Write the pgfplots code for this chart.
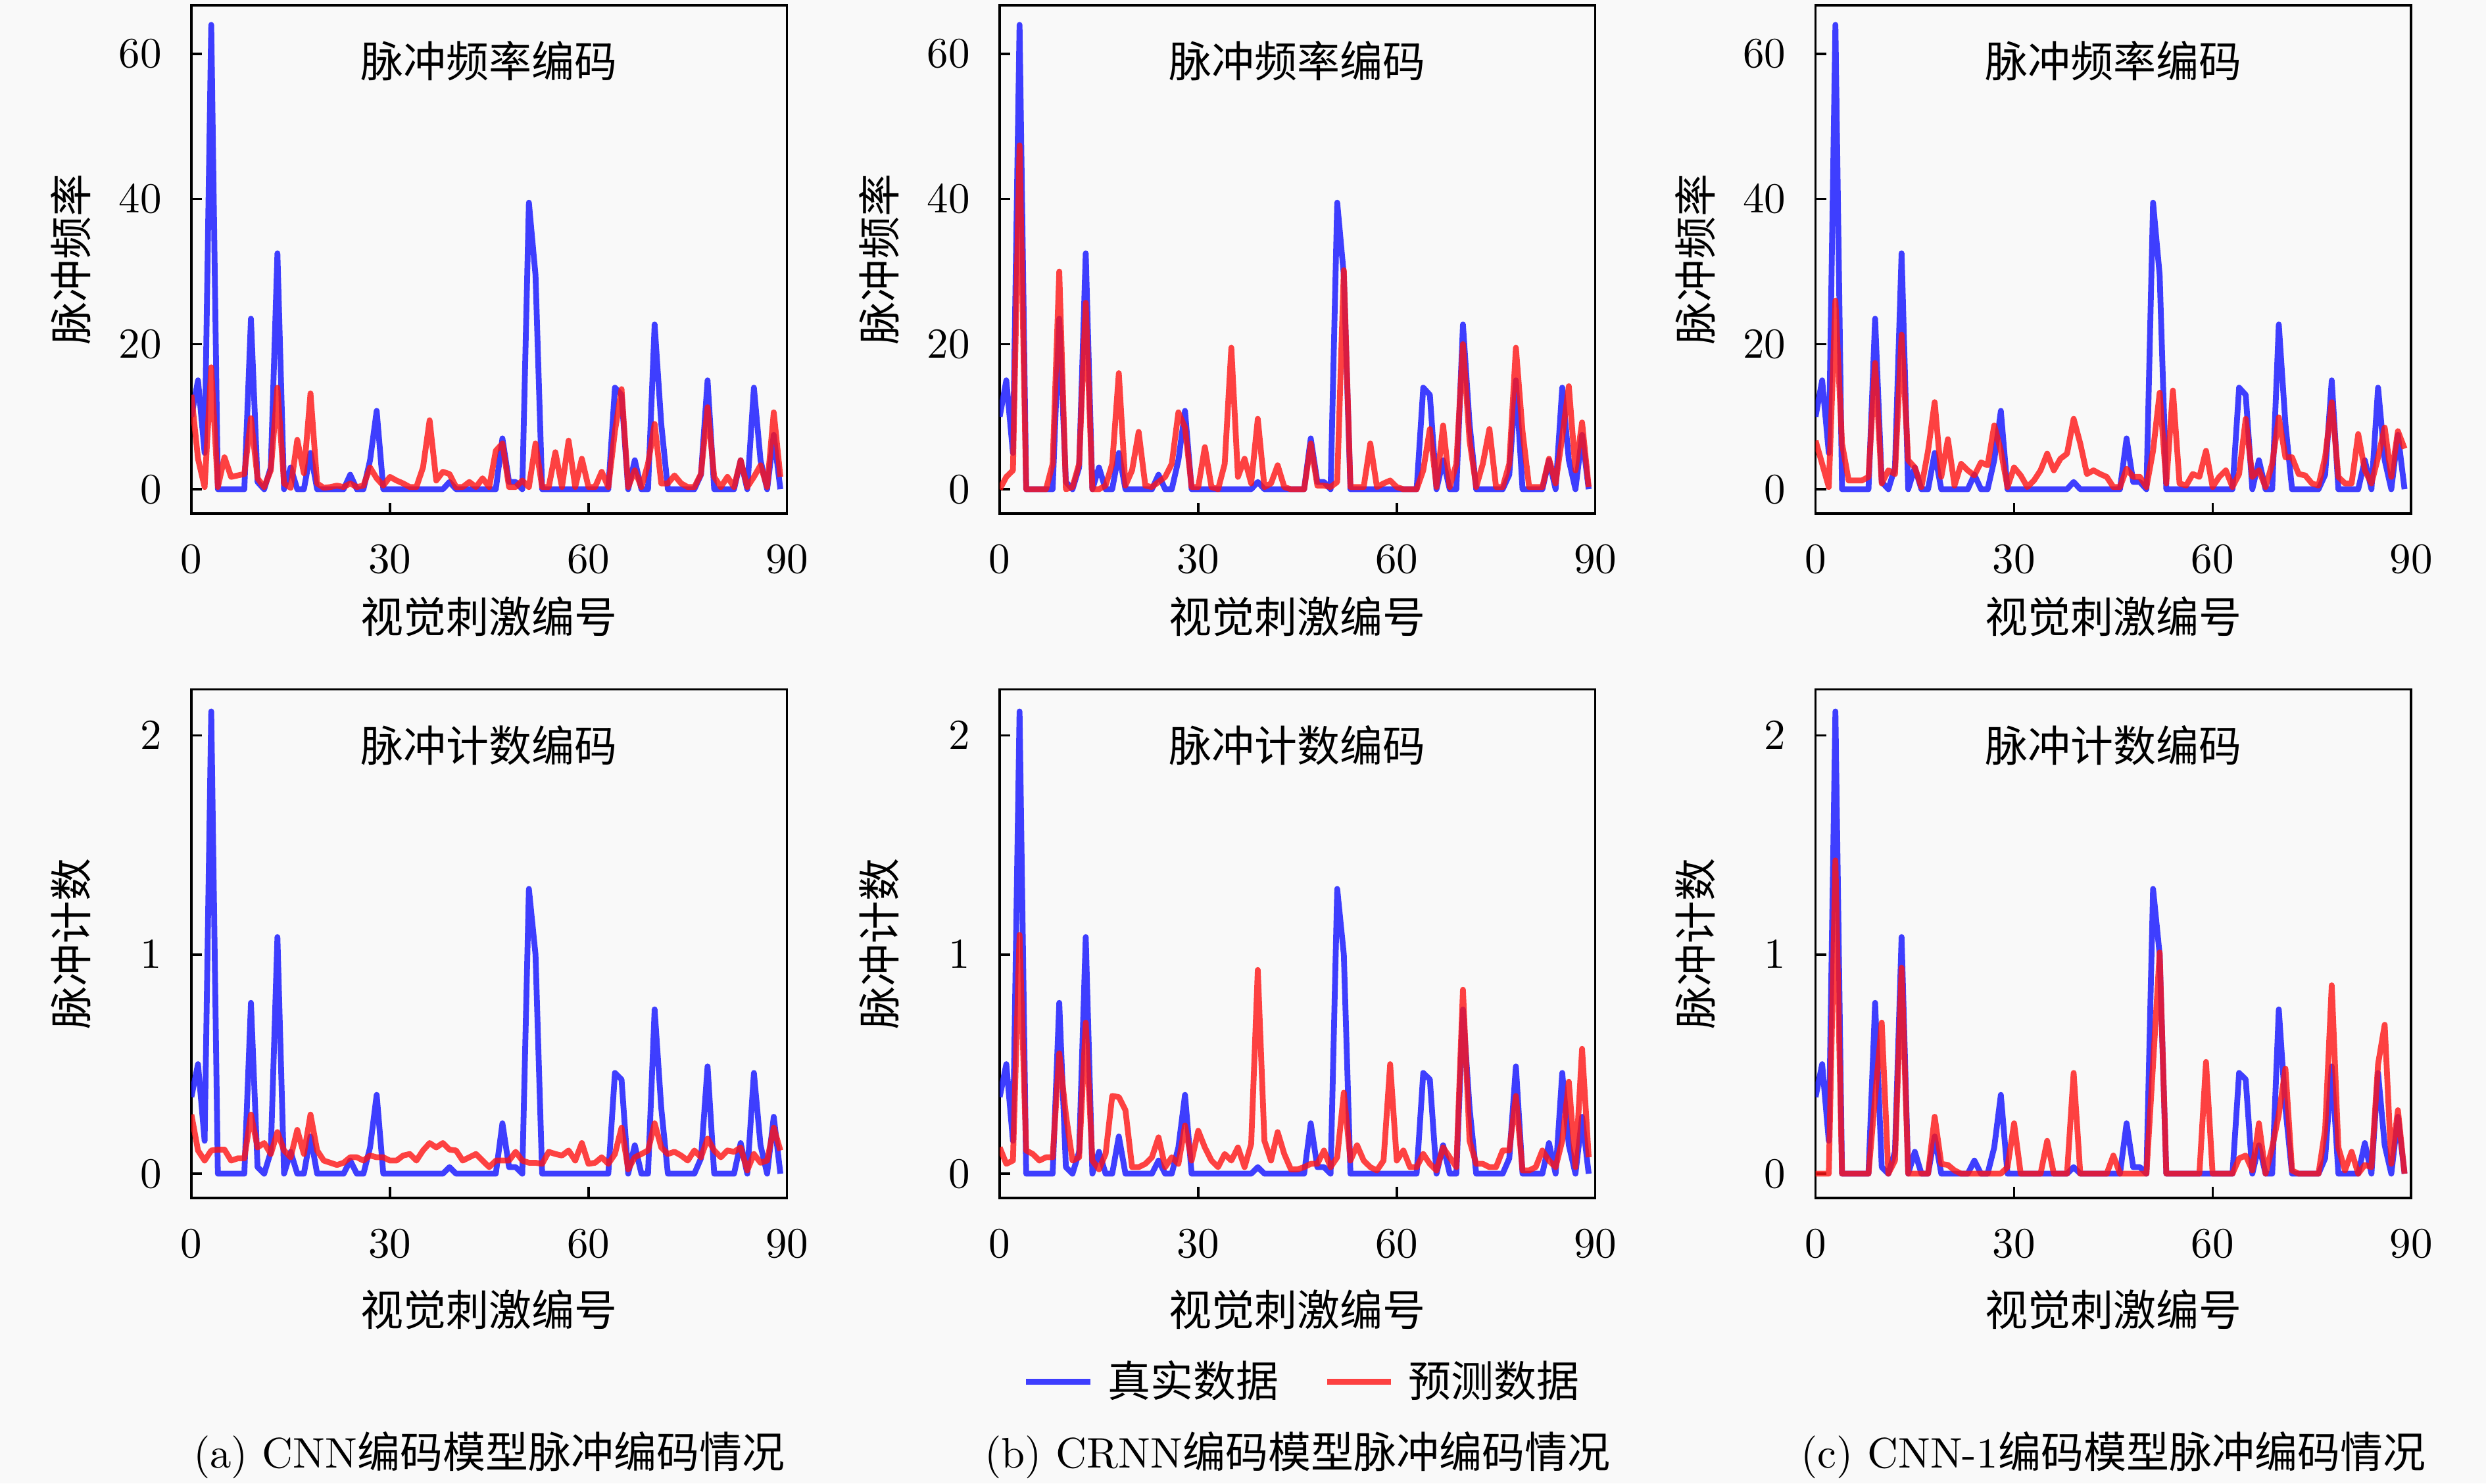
\documentclass[border=0pt]{standalone}
\usepackage{fontspec}
\usepackage{pgfplots}
\usepackage{pgfplotstable}
\pgfplotsset{compat=1.18}
\newfontfamily\cjk{Noto Sans CJK SC}
\definecolor{bgc}{RGB}{249,249,249}
\definecolor{tblue}{RGB}{30,30,255}
\definecolor{pred}{RGB}{255,20,20}

\pgfplotstableread{
x b ra rb rc
0 10 13 0 6.7
1 15 4.2 1.7 3.5
2 5 0.3 2.6 0.3
3 64 16.8 47.4 26
4 0 0.3 0 6.3
5 0 4.4 0 1.2
6 0 1.7 0 1.2
7 0 1.9 0 1.2
8 0 2.1 3.5 1.7
9 23.5 9.8 30 17.4
10 1 1.5 0 0.8
11 0 0.3 0.3 2.6
12 3 2.6 3.5 2.1
13 32.5 14 25.7 21.3
14 0 0.8 0 4
15 3 0.2 0 3
16 0 6.8 0.5 0.3
17 0 2.2 3.5 5.3
18 5 13.2 16 12
19 0 0.8 0.5 1.7
20 0 0.2 2.6 6.9
21 0 0.3 7.9 0.5
22 0 0.5 0.5 3.5
23 0 0.3 0.3 2.6
24 2 0.8 1 1.9
25 0 0.3 1.7 3.7
26 0 0.5 3.5 3.3
27 4 3 10.6 8.8
28 10.8 1.5 8.5 5.3
29 0 0.5 0.3 0.3
30 0 1.7 0.3 3
31 0 1.2 5.8 1.9
32 0 0.8 0.3 0.3
33 0 0.3 0 1.2
34 0 0.3 3.5 2.6
35 0 3 19.5 4.9
36 0 9.5 1.7 2.6
37 0 1.2 4.2 4.2
38 0 2.4 0.8 4.9
39 1 2.1 9.7 9.7
40 0 0.3 0.3 6.3
41 0 0.3 0.8 2.1
42 0 1 3.3 2.6
43 0 0.3 0.3 2.1
44 0 1.5 0 1.7
45 0 0.3 0 0.3
46 0 5.3 0 0.3
47 7 6.3 6.3 2.8
48 1 0.3 0.5 1.7
49 1 0.3 0.5 1.7
50 0 1.2 0.3 0.3
51 39.5 0.3 1 5.3
52 29.5 6.3 30.2 13.3
53 0 0.3 0.3 0.8
54 0 0.3 0.3 13.6
55 0 5.1 0.3 0.8
56 0 0.3 6.3 0.5
57 0 6.7 0.3 2.1
58 0 0.3 0.8 1.7
59 0 4.2 1.2 5.3
60 0 0.3 0.3 0.3
61 0 0.3 0 1.7
62 0 2.4 0 2.6
63 0 0.3 0 0.3
64 14 8 2.6 2.1
65 13 13.8 8.3 9.7
66 0 0.3 0.3 1.7
67 4 2.6 8.8 2.6
68 0 0.3 0.3 0.3
69 0 3.5 3.5 3.5
70 22.7 9 20 9.9
71 9 0.8 6.7 4.4
72 0 0.8 0.3 4.4
73 0 1.9 3.5 2.1
74 0 0.8 8.3 1.9
75 0 0.3 0.3 0.8
76 0 0.3 0.3 0.5
77 2 2.1 3.5 4.4
78 15 11.3 19.5 12
79 0 1.7 8 1.7
80 0 0.3 0.3 0.8
81 0 1.7 0.3 0.8
82 0 0.3 0.3 7.6
83 4 4 4.2 2.6
84 0 0.3 0.8 0.8
85 14 1.7 7.2 4.4
86 4 3.3 14.2 8.5
87 0 0.3 2.6 1.7
88 7.5 10.6 9.2 8
89 0 1.7 0.3 5.6
}\ratetable

\pgfplotstableread{
x b ca cb cc
0 0.35 0.27 0.12 0
1 0.5 0.106 0.045 0
2 0.15 0.06 0.06 0
3 2.11 0.106 1.09 1.43
4 0 0.11 0.106 0
5 0 0.11 0.09 0
6 0 0.06 0.06 0
7 0 0.07 0.075 0
8 0 0.07 0.075 0
9 0.78 0.27 0.55 0.35
10 0.03 0.12 0.27 0.69
11 0 0.14 0.06 0
12 0.1 0.09 0.075 0.06
13 1.08 0.19 0.69 0.94
14 0 0.106 0.06 0
15 0.1 0.075 0.02 0
16 0 0.2 0.09 0
17 0 0.09 0.355 0
18 0.17 0.27 0.35 0.26
19 0 0.106 0.29 0.045
20 0 0.06 0.03 0.04
21 0 0.05 0.03 0.015
22 0 0.04 0.045 0
23 0 0.05 0.075 0
24 0.06 0.075 0.166 0
25 0 0.075 0.03 0
26 0 0.06 0.075 0
27 0.12 0.083 0.045 0
28 0.36 0.075 0.22 0
29 0 0.075 0.06 0.03
30 0 0.06 0.196 0.23
31 0 0.06 0.12 0
32 0 0.083 0.06 0
33 0 0.09 0.03 0
34 0 0.06 0.09 0
35 0 0.106 0.06 0.15
36 0 0.14 0.12 0
37 0 0.12 0.03 0
38 0 0.14 0.136 0
39 0.03 0.11 0.93 0.46
40 0 0.106 0.15 0
41 0 0.06 0.06 0
42 0 0.075 0.19 0
43 0 0.09 0.09 0
44 0 0.06 0.02 0
45 0 0.03 0.02 0.083
46 0 0.06 0.03 0
47 0.23 0.06 0.045 0
48 0.03 0.06 0.045 0
49 0.03 0.1 0.106 0
50 0 0.06 0.03 0
51 1.3 0.05 0.075 0.5
52 1.0 0.05 0.37 1.01
53 0 0.045 0.06 0
54 0 0.1 0.13 0
55 0 0.09 0.06 0
56 0 0.083 0.03 0
57 0 0.106 0.015 0
58 0 0.06 0.06 0
59 0 0.14 0.5 0.51
60 0 0.045 0.06 0
61 0 0.05 0.106 0
62 0 0.075 0.03 0
63 0 0.045 0.03 0
64 0.46 0.09 0.09 0.07
65 0.43 0.21 0.045 0.083
66 0 0.02 0.015 0.015
67 0.13 0.075 0.12 0.23
68 0 0.09 0.075 0
69 0 0.106 0.03 0.12
70 0.75 0.23 0.84 0.27
71 0.3 0.12 0.15 0.48
72 0 0.09 0.045 0.015
73 0 0.1 0.045 0
74 0 0.083 0.03 0
75 0 0.06 0.03 0
76 0 0.106 0.106 0
77 0.07 0.075 0.106 0.2
78 0.49 0.16 0.355 0.86
79 0 0.106 0.015 0.12
80 0 0.075 0.015 0.015
81 0 0.106 0.03 0.1
82 0 0.1 0.106 0
83 0.14 0.12 0.06 0.04
84 0 0.015 0.03 0.03
85 0.46 0.09 0.15 0.5
86 0.13 0.05 0.42 0.68
87 0 0.06 0.03 0.045
88 0.26 0.21 0.57 0.29
89 0 0.106 0.075 0
}\counttable

\pgfplotsset{
  panel/.style={
    scale only axis, width=139.3pt, height=118.9pt,
    xmin=0, xmax=90, xtick={0,30,60,90},
    xtick pos=bottom, ytick pos=left, tick align=inside,
    major tick length=2.5pt,
    axis line style={line width=0.55pt},
    every tick/.style={black, line width=0.55pt},
    axis background/.style={fill=bgc},
    xticklabel style={yshift=-4pt},
    yticklabel style={xshift=-3.4pt},
    clip mode=individual,
    legend image code/.code={\draw[##1] (0pt,0pt) -- (15pt,0pt);},
  },
  toprow/.style={panel,
    ymin=-3.35, ymax=66.7, ytick={0,20,40,60},
    xlabel={\cjk 视觉刺激编号},
    ylabel={\cjk 脉冲频率},
    xlabel style={at={(axis description cs:0.5,-0.203)}, anchor=center},
    ylabel style={at={(axis description cs:-0.202,0.5)}, anchor=center},
  },
  botrow/.style={panel,
    ymin=-0.11, ymax=2.21, ytick={0,1,2},
    xlabel={\cjk 视觉刺激编号},
    ylabel={\cjk 脉冲计数},
    xlabel style={at={(axis description cs:0.5,-0.22)}, anchor=center},
    ylabel style={at={(axis description cs:-0.202,0.5)}, anchor=center},
  },
  truestyle/.style={tblue, opacity=0.85, line width=1.35pt, line join=round},
  predstyle/.style={pred, opacity=0.8, line width=1.35pt, line join=round},
}

\begin{document}
\begin{tikzpicture}
\useasboundingbox (0,0) rectangle (581.4pt,-347pt);
\fill[bgc] (0,0) rectangle (581.4pt,-347pt);

% top row
\begin{axis}[toprow, at={(44.76pt,-1.23pt)}, anchor=north west]
\addplot[truestyle] table[x=x,y=b] {\ratetable};
\addplot[predstyle] table[x=x,y=ra] {\ratetable};
\node at (rel axis cs:0.5,0.89) {\cjk 脉冲频率编码};
\end{axis}
\begin{axis}[toprow, at={(233.8pt,-1.23pt)}, anchor=north west]
\addplot[truestyle] table[x=x,y=b] {\ratetable};
\addplot[predstyle] table[x=x,y=rb] {\ratetable};
\node at (rel axis cs:0.5,0.89) {\cjk 脉冲频率编码};
\end{axis}
\begin{axis}[toprow, at={(424.6pt,-1.23pt)}, anchor=north west]
\addplot[truestyle] table[x=x,y=b] {\ratetable};
\addplot[predstyle] table[x=x,y=rc] {\ratetable};
\node at (rel axis cs:0.5,0.89) {\cjk 脉冲频率编码};
\end{axis}

% bottom row
\begin{axis}[botrow, at={(44.76pt,-161.3pt)}, anchor=north west]
\addplot[truestyle] table[x=x,y=b] {\counttable};
\addplot[predstyle] table[x=x,y=ca] {\counttable};
\node at (rel axis cs:0.5,0.89) {\cjk 脉冲计数编码};
\node at (rel axis cs:0.5,-0.506) {(a) CNN{\cjk 编码模型脉冲编码情况}};
\end{axis}
\begin{axis}[botrow, at={(233.8pt,-161.3pt)}, anchor=north west,
  legend style={at={(axis description cs:0.519,-0.362)}, anchor=center,
    draw=none, fill=none, legend columns=2, font=\cjk,
    nodes={inner xsep=3.4pt},
    /tikz/every even column/.append style={column sep=7.2pt}}]
\addplot[truestyle] table[x=x,y=b] {\counttable};
\addlegendentry{真实数据}
\addplot[predstyle] table[x=x,y=cb] {\counttable};
\addlegendentry{预测数据}
\node at (rel axis cs:0.5,0.89) {\cjk 脉冲计数编码};
\node at (rel axis cs:0.5,-0.506) {(b) CRNN{\cjk 编码模型脉冲编码情况}};
\end{axis}
\begin{axis}[botrow, at={(424.6pt,-161.3pt)}, anchor=north west]
\addplot[truestyle] table[x=x,y=b] {\counttable};
\addplot[predstyle] table[x=x,y=cc] {\counttable};
\node at (rel axis cs:0.5,0.89) {\cjk 脉冲计数编码};
\node at (rel axis cs:0.5,-0.506) {(c) CNN-1{\cjk 编码模型脉冲编码情况}};
\end{axis}
\end{tikzpicture}
\end{document}
